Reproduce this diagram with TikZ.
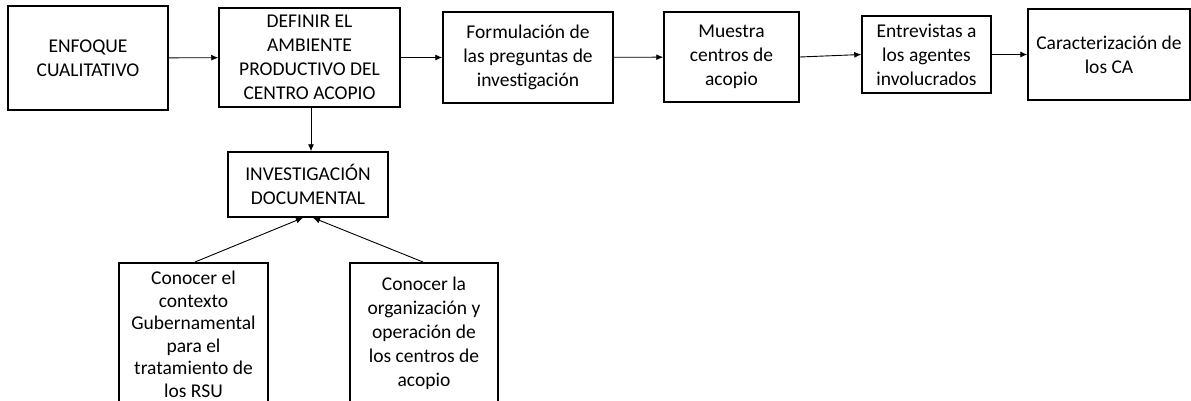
\documentclass[tikz,border=0pt]{standalone}
\usepackage{fontspec}
\setmainfont{Carlito}
\usetikzlibrary{arrows.meta}
\begin{document}
\begin{tikzpicture}[x=1pt, y=-1pt, >={Latex[length=7pt,width=6pt]},
  caja/.style={draw, line width=1.5pt, align=center, inner sep=2pt,
    font=\fontsize{19.5}{24}\selectfont},
  flecha/.style={->, line width=0.9pt}]
  \useasboundingbox (0,0) rectangle (1191,400);
  \clip (0,0) rectangle (1191,400);

  \node[caja, minimum width=160, minimum height=104] (enfoque) at (88,58) {ENFOQUE\\CUALITATIVO};
  \node[caja, minimum width=181, minimum height=99] (definir) at (309.5,57.5) {DEFINIR EL\\AMBIENTE\\PRODUCTIVO DEL\\CENTRO ACOPIO};
  \node[caja, minimum width=170, minimum height=91] (formula) at (528,57.5) {Formulación de\\las preguntas de\\investigación};
  \node[caja, minimum width=135, minimum height=90] (muestra) at (731.5,57) {Muestra\\centros de\\acopio};
  \node[caja, minimum width=129, minimum height=77] (entrevista) at (926.5,54.5) {Entrevistas a\\los agentes\\involucrados};
  \node[caja, minimum width=162, minimum height=91] (caracter) at (1109,54.5) {Caracterización de\\los CA};

  \node[caja, minimum width=160, minimum height=65] (investiga) at (308,184.5) {INVESTIGACIÓN\\DOCUMENTAL};
  \node[caja, anchor=north, minimum width=149, minimum height=146, font=\fontsize{19.5}{22.5}\selectfont] (contexto) at (193.5,262) {Conocer el\\contexto\\Gubernamental\\para el\\tratamiento de\\los RSU\vspace{3pt}};
  \node[caja, anchor=north, minimum width=148, minimum height=142] (organiza) at (424,262) {Conocer la\\organización y\\operación de\\los centros de\\acopio};

  \draw[flecha] (enfoque) -- (definir);
  \draw[flecha] (definir) -- (formula);
  \draw[flecha] (formula) -- (muestra);
  \draw[flecha] (muestra.east) -- (entrevista.west);
  \draw[flecha] (entrevista) -- (caracter);
  \draw[flecha] ([xshift=1.5]definir.south) -- ([xshift=1.5]definir.south |- investiga.north);
  \draw[flecha] ([xshift=1.5]contexto.north) -- ([xshift=-5]investiga.south);
  \draw[flecha] ([xshift=-1]organiza.north) -- ([xshift=5]investiga.south);
\end{tikzpicture}
\end{document}
